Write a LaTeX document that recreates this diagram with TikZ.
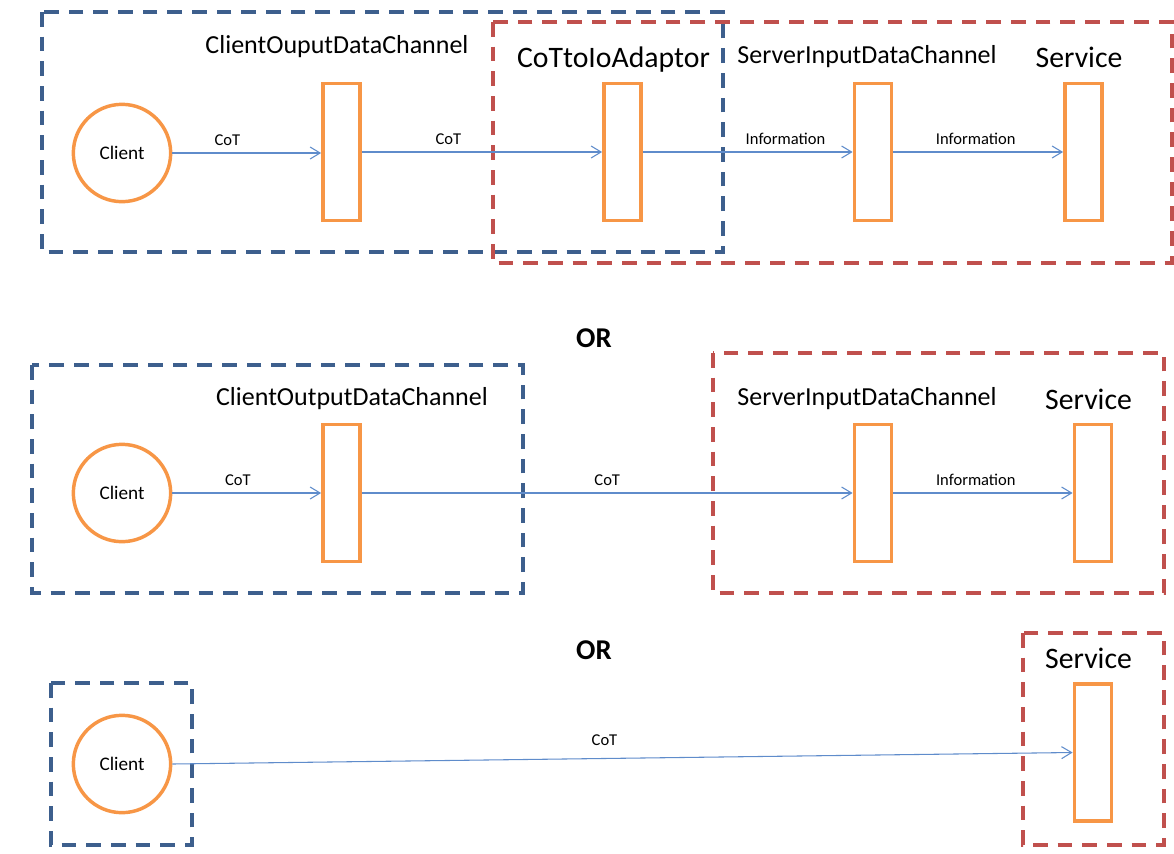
\documentclass[tikz,border=0pt]{standalone}
\usepackage{fontspec}
\setmainfont{Carlito}
\usetikzlibrary{arrows.meta}
\definecolor{dblue}{HTML}{3D5F8D}
\definecolor{dred}{HTML}{C0504D}
\definecolor{orng}{HTML}{F79646}
\definecolor{lnblue}{HTML}{5F8CCB}
\tikzset{
  bluebox/.style={draw=dblue, line width=3pt, dash pattern=on 11pt off 7.5pt},
  redbox/.style={draw=dred, line width=3pt, dash pattern=on 11pt off 7.5pt},
  client/.style={circle, draw=orng, line width=2.6pt, minimum size=73pt, inner sep=0pt, font=\fontsize{14.4}{16}\selectfont},
  chan/.style={rectangle, draw=orng, line width=2.6pt, minimum width=28pt, minimum height=103pt, inner sep=0pt},
  title/.style={anchor=base, inner sep=0pt, font=\fontsize{19.5}{22}\selectfont},
  bigtitle/.style={anchor=base, inner sep=0pt, font=\fontsize{22.3}{25}\selectfont},
  ortext/.style={anchor=base, inner sep=0pt, font=\fontsize{21.5}{25}\selectfont\bfseries},
  lbl/.style={anchor=base, inner sep=0pt, yshift=5.5pt, font=\fontsize{12.4}{14}\selectfont},
  flow/.style={draw=lnblue, line width=0.8pt, -{Straight Barb[length=7.5pt, width=9pt, line width=0.8pt]}}
}
\begin{document}
\begin{tikzpicture}[x=0.75pt, y=-0.75pt]
\useasboundingbox (0,0) rectangle (1174,853);
% ---------- row 1 ----------
\draw[bluebox] (42,12) rectangle (723,252);
\draw[redbox] (493,22) rectangle (1172,263);
\node[client] (c1) at (122,153) {Client};
\node[chan] (a1) at (341.5,152) {};
\node[chan] (a2) at (622.5,152) {};
\node[chan] (a3) at (873,152) {};
\node[chan] (a4) at (1083.5,152) {};
\node[title] (t1) at (337,53) {ClientOuputDataChannel};
\node[bigtitle] (t2) at (613.5,67) {CoTtoIoAdaptor};
\node[title] (t3) at (867,63) {ServerInputDataChannel};
\node[bigtitle] (t4) at (1079,67) {Service};
\draw[flow] (c1.east) -- node[lbl, pos=0.37] {CoT} (c1.east -| a1.west);
\draw[flow] (a1.east) -- node[lbl, pos=0.36] {CoT} (a2.west);
\draw[flow] (a2.east) -- node[lbl, pos=0.68] {Information} (a3.west);
\draw[flow] (a3.east) -- node[lbl, pos=0.485] {Information} (a4.west);
% ---------- OR ----------
\node[ortext] (or1) at (594,347.5) {OR};
% ---------- row 2 ----------
\draw[bluebox] (32,365) rectangle (523,593);
\draw[redbox] (713,353) rectangle (1164,593);
\node[client] (c2) at (122,493) {Client};
\node[chan] (b1) at (341.5,493) {};
\node[chan] (b2) at (873,493) {};
\node[chan] (b3) at (1093,493) {};
\node[title] (u1) at (352,405) {ClientOutputDataChannel};
\node[title] (u2) at (867,405) {ServerInputDataChannel};
\node[bigtitle] (u3) at (1088.5,409) {Service};
\draw[flow] (c2.east) -- node[lbl, pos=0.44] {CoT} (b1.west);
\draw[flow] (b1.east) -- node[lbl, pos=0.50] {CoT} (b2.west);
\draw[flow] (b2.east) -- node[lbl, pos=0.46] {Information} (b3.west);
% ---------- OR ----------
\node[ortext] (or2) at (594,659) {OR};
% ---------- row 3 ----------
\draw[bluebox] (51,683) rectangle (192,845);
\draw[redbox] (1023,633) rectangle (1164,845);
\node[client] (c3) at (122,764) {Client};
\node[chan] (d1) at (1093,752.5) {};
\node[bigtitle] (v1) at (1088.5,668.5) {Service};
\draw[flow] (c3.east) -- node[lbl, pos=0.48, yshift=4pt] {CoT} (d1.west);
\end{tikzpicture}
\end{document}
